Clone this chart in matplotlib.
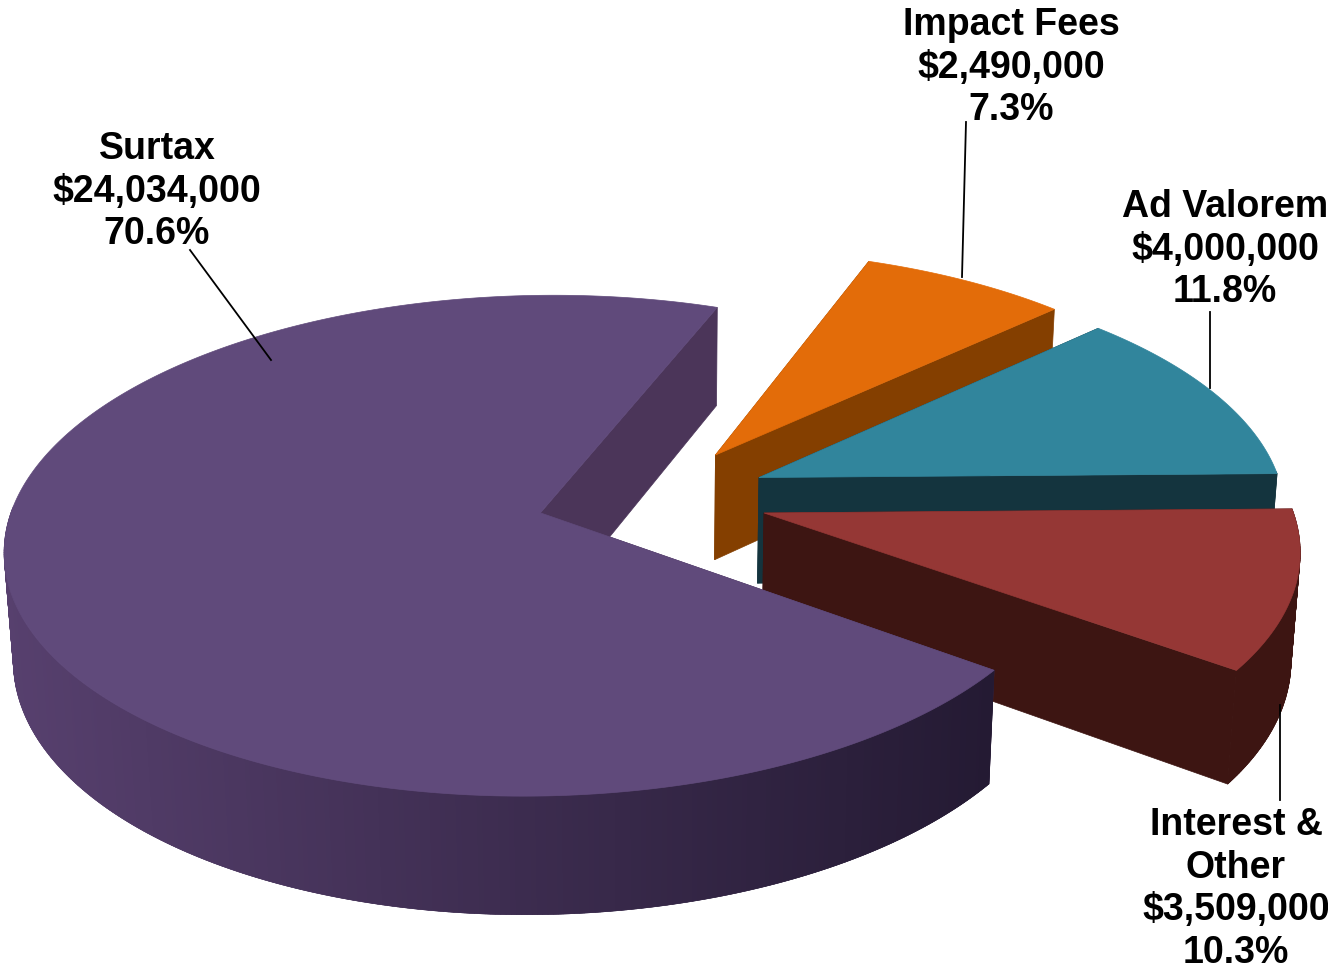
import numpy as np
import matplotlib.pyplot as plt
from matplotlib.colors import to_rgb
from matplotlib.patches import Polygon

plt.rcParams['font.family'] = ['Liberation Sans', 'DejaVu Sans']

# slices in drawing order, back to front
names = ['Impact Fees', 'Ad Valorem', 'Interest &\nOther', 'Surtax']
values = [2490000, 4000000, 3509000, 24034000]
top_colors = ['#e36c09', '#31859c', '#953735', '#604a7b']
cut_colors = ['#843f00', '#14343e', '#3d1512', '#4b3559']
rim_left = ['#843f00', '#14343e', '#3d1512', '#57406e']
rim_right = ['#843f00', '#14343e', '#3d1512', '#241a33']
explode = [0.213, 0.216, 0.216, 0.226]

# perspective camera, world units are pie radii
CX, CY = 655, 497
SX, SY, SZ = 525, 242, 108
K_Y, K_Z = 0.13, 0.014
DEPTH = 1.0


def project(x, y, drop=0.0):
    w = 1 + K_Y * y + K_Z * drop
    return np.column_stack([CX + SX * x / w, CY - SY * y / w + SZ * drop / w])


def shade(a, b, t):
    a, b = np.array(to_rgb(a)), np.array(to_rgb(b))
    return tuple(a + (b - a) * t)


fig = plt.figure(figsize=(13.28, 9.73), dpi=100)
ax = fig.add_axes([0, 0, 1, 1])
ax.set_xlim(0, 1328)
ax.set_ylim(973, 0)
ax.axis('off')

# angles run clockwise from the end of the surtax slice at 69.6 degrees
total = sum(values)
start = 69.6
for i, v in enumerate(values):
    sweep = 360 * v / total
    theta = np.radians(np.linspace(start, start - sweep, max(int(sweep * 2), 8)))
    mid = np.radians(start - sweep / 2)
    ox, oy = explode[i] * np.cos(mid), explode[i] * np.sin(mid)
    rx, ry = ox + np.cos(theta), oy + np.sin(theta)

    # the two cut faces
    for j in (0, -1):
        xs = np.array([ox, rx[j], rx[j], ox])
        ys = np.array([oy, ry[j], ry[j], oy])
        ds = np.array([0, 0, DEPTH, DEPTH])
        w = 1 + K_Y * ys + K_Z * ds
        pts = np.column_stack([CX + SX * xs / w, CY - SY * ys / w + SZ * ds / w])
        ax.add_patch(Polygon(pts, fc=cut_colors[i], ec=cut_colors[i], lw=0.5))

    # outer wall, front half only, strips overlap so no seams show
    upper = project(rx, ry)
    lower = project(rx, ry, DEPTH)
    x0, x1 = upper[:, 0].min(), upper[:, 0].max()
    front = np.sin(theta) < 0.02
    for n in np.argsort(upper[:, 0]):
        m = min(n + 1, len(theta) - 1)
        k = max(n - 1, 0)
        if not front[n]:
            continue
        t = (upper[n, 0] - x0) / max(x1 - x0, 1)
        c = shade(rim_left[i], rim_right[i], t)
        quad = np.vstack([upper[k], upper[m], lower[m], lower[k]])
        ax.add_patch(Polygon(quad, fc=c, ec=c, lw=0.4))

    # top face
    face = np.vstack([project(np.array([ox]), np.array([oy])), upper])
    ax.add_patch(Polygon(face, fc=top_colors[i], ec=top_colors[i], lw=0.5))
    start -= sweep


def label(x, y, i):
    pct = 100 * values[i] / total
    ax.text(x, y, f'{names[i]}\n${values[i]:,}\n{pct:.1f}%', ha='center', va='top',
            fontsize=27, fontweight='bold', color='black', linespacing=1.24)


label(1011, 7, 0)
label(1225, 189, 1)
label(1236, 807, 2)
label(157, 131, 3)

# leader lines
ax.plot([966, 962], [122, 277], color='black', lw=1.3)
ax.plot([1210, 1210], [312, 388], color='black', lw=1.3)
ax.plot([1280, 1280], [800, 705], color='black', lw=1.3)
ax.plot([190, 271], [250, 360], color='black', lw=1.3)

fig.savefig('out.png', dpi=100)
